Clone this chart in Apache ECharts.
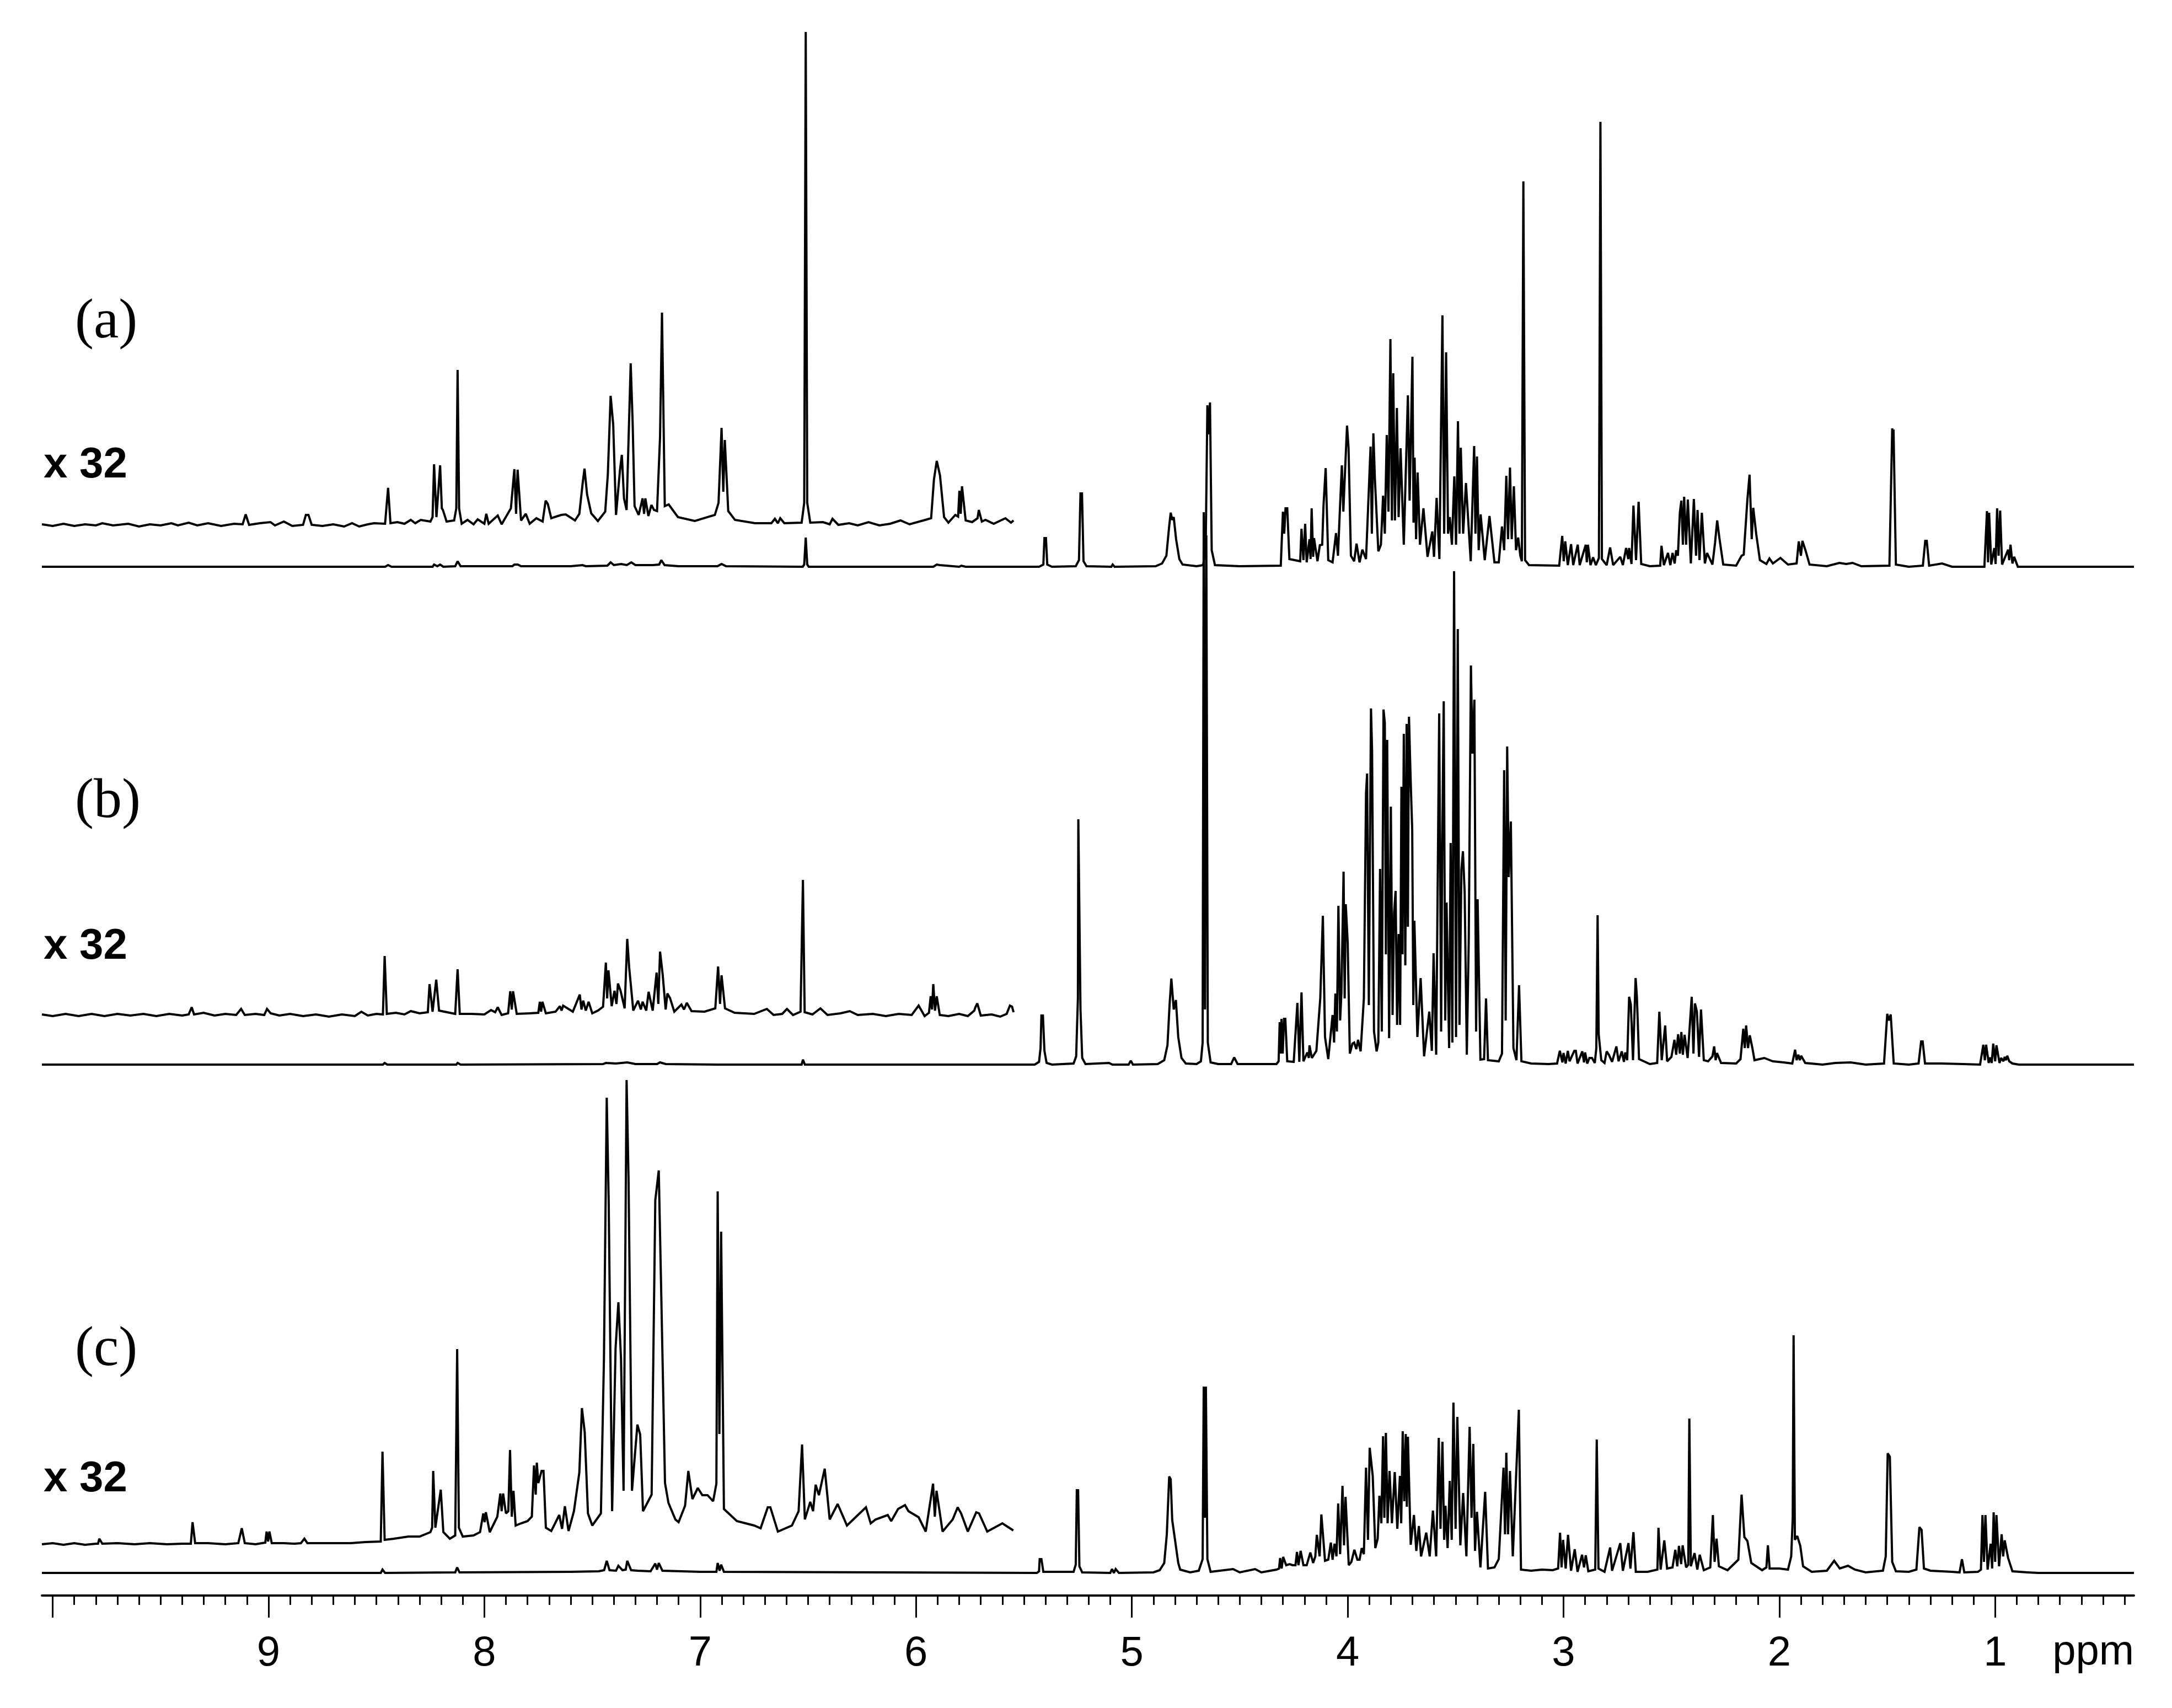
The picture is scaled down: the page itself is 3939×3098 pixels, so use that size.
<!DOCTYPE html>
<html><head><meta charset="utf-8">
<style>html,body{margin:0;padding:0;background:#fff}#c{width:3939px;height:3098px}</style>
<script src="https://cdn.jsdelivr.net/npm/echarts@6/dist/echarts.min.js"></script>
</head><body><div id="c"></div>
<script>
// Each trace: [chemical shift in ppm, intensity above that trace's baseline]
const traceAx32=[[10.05,1],[10.0,-2],[9.95,2],[9.9,-2],[9.85,1],[9.8,-1],[9.77,3],[9.72,-1],[9.65,2],[9.6,-3],[9.55,1],[9.5,-1],[9.45,3],[9.42,-1],[9.37,4],[9.33,-1],[9.28,3],[9.22,-2],[9.16,2],[9.12,1],[9.106,19],[9.09,0],[9.04,3],[8.991,5],[8.97,-1],[8.929,6],[8.89,-2],[8.84,0],[8.827,18],[8.815,18],[8.80,0],[8.75,-2],[8.7,1],[8.65,-3],[8.613,3],[8.58,-3],[8.54,1],[8.511,3],[8.46,2],[8.446,67],[8.435,3],[8.403,5],[8.37,2],[8.341,9],[8.32,3],[8.295,9],[8.25,6],[8.24,14],[8.233,110],[8.222,14],[8.205,108],[8.197,30],[8.192,27],[8.175,6],[8.14,8],[8.13,30],[8.124,281],[8.117,30],[8.105,2],[8.078,9],[8.05,1],[8.031,10],[8.0,2],[7.991,20],[7.98,2],[7.938,17],[7.92,1],[7.877,30],[7.861,101],[7.853,20],[7.846,100],[7.83,8],[7.808,20],[7.79,2],[7.759,12],[7.73,6],[7.716,44],[7.706,38],[7.69,12],[7.644,18],[7.623,19],[7.58,8],[7.56,20],[7.545,74],[7.536,102],[7.524,55],[7.505,21],[7.474,7],[7.44,24],[7.428,91],[7.415,234],[7.403,182],[7.39,18],[7.372,98],[7.363,127],[7.353,48],[7.341,27],[7.322,293],[7.313,186],[7.304,34],[7.285,18],[7.267,48],[7.26,20],[7.254,48],[7.24,16],[7.226,36],[7.214,27],[7.2,25],[7.186,159],[7.177,385],[7.164,34],[7.146,37],[7.103,14],[7.025,7],[6.932,18],[6.915,40],[6.901,176],[6.893,60],[6.886,154],[6.87,25],[6.839,9],[6.746,3],[6.67,3],[6.654,11],[6.64,3],[6.629,12],[6.61,3],[6.53,4],[6.518,40],[6.511,894],[6.504,40],[6.49,4],[6.431,5],[6.4,1],[6.387,11],[6.36,0],[6.31,3],[6.27,-1],[6.22,5],[6.17,-1],[6.12,2],[6.072,8],[6.03,1],[5.957,9],[5.93,12],[5.917,82],[5.904,116],[5.889,90],[5.87,14],[5.85,4],[5.818,18],[5.805,15],[5.799,62],[5.793,20],[5.787,70],[5.77,8],[5.74,5],[5.715,12],[5.709,27],[5.695,6],[5.678,9],[5.64,2],[5.586,12],[5.56,4],[5.548,8]];
const traceAmain=[[10.05,0],[8.46,0],[8.446,3],[8.43,0],[8.24,0],[8.233,4],[8.218,1],[8.205,4],[8.19,0],[8.135,1],[8.124,10],[8.11,1],[7.87,1],[7.861,4],[7.845,4],[7.83,1],[7.6,1],[7.545,3],[7.53,1],[7.43,2],[7.415,8],[7.40,3],[7.366,5],[7.34,3],[7.319,8],[7.30,3],[7.22,3],[7.19,4],[7.18,12],[7.165,3],[7.1,1],[6.92,1],[6.901,5],[6.88,1],[6.525,0],[6.518,4],[6.511,53],[6.504,4],[6.497,0],[5.92,0],[5.904,4],[5.89,3],[5.8,0],[5.79,2],[5.77,0],[5.43,0],[5.41,4],[5.405,52],[5.398,52],[5.392,4],[5.37,0],[5.26,1],[5.245,12],[5.238,133],[5.231,133],[5.224,10],[5.21,1],[5.095,0],[5.089,4],[5.08,0],[4.89,1],[4.86,6],[4.84,20],[4.828,70],[4.82,98],[4.813,85],[4.806,90],[4.795,50],[4.78,14],[4.765,4],[4.70,1],[4.67,3],[4.658,30],[4.65,293],[4.644,240],[4.638,298],[4.63,30],[4.615,3],[4.5,1],[4.31,2],[4.30,100],[4.294,60],[4.288,106],[4.28,106],[4.27,14],[4.22,10],[4.214,69],[4.205,12],[4.197,78],[4.19,8],[4.177,50],[4.172,14],[4.167,106],[4.16,18],[4.156,52],[4.14,10],[4.129,39],[4.118,40],[4.112,111],[4.102,179],[4.09,12],[4.07,8],[4.054,61],[4.045,20],[4.037,95],[4.027,184],[4.02,100],[4.017,130],[4.003,256],[3.996,216],[3.985,20],[3.97,10],[3.959,42],[3.945,8],[3.932,31],[3.915,14],[3.894,218],[3.888,60],[3.881,242],[3.874,160],[3.858,28],[3.846,40],[3.836,129],[3.828,60],[3.819,239],[3.811,100],[3.802,413],[3.795,84],[3.789,351],[3.781,84],[3.772,288],[3.764,90],[3.755,215],[3.74,40],[3.721,311],[3.713,120],[3.70,381],[3.695,80],[3.69,198],[3.683,50],[3.676,171],[3.665,40],[3.649,106],[3.63,18],[3.608,64],[3.6,18],[3.588,125],[3.575,14],[3.561,456],[3.553,60],[3.544,389],[3.535,60],[3.527,90],[3.517,40],[3.506,164],[3.498,40],[3.489,264],[3.482,60],[3.476,216],[3.465,60],[3.452,152],[3.43,10],[3.414,219],[3.408,60],[3.401,200],[3.393,30],[3.384,95],[3.365,12],[3.343,92],[3.32,8],[3.30,8],[3.285,73],[3.275,30],[3.265,165],[3.257,50],[3.248,180],[3.24,50],[3.23,146],[3.22,30],[3.21,53],[3.2,20],[3.193,10],[3.186,699],[3.178,12],[3.16,3],[3.02,2],[3.006,56],[2.999,10],[2.992,46],[2.98,3],[2.965,41],[2.955,3],[2.934,40],[2.925,3],[2.897,40],[2.892,8],[2.887,40],[2.875,3],[2.863,17],[2.85,3],[2.836,16],[2.829,807],[2.822,14],[2.80,3],[2.784,35],[2.77,3],[2.737,18],[2.725,3],[2.71,34],[2.70,14],[2.696,34],[2.685,5],[2.676,111],[2.664,12],[2.652,118],[2.64,5],[2.60,1],[2.552,2],[2.546,38],[2.535,3],[2.516,25],[2.505,3],[2.495,25],[2.485,6],[2.478,30],[2.47,20],[2.461,98],[2.454,120],[2.447,40],[2.441,127],[2.432,40],[2.424,122],[2.41,6],[2.396,123],[2.386,20],[2.379,103],[2.37,12],[2.359,98],[2.345,6],[2.335,25],[2.31,4],[2.298,43],[2.288,84],[2.277,50],[2.26,4],[2.2,2],[2.175,20],[2.165,22],[2.148,122],[2.138,167],[2.128,50],[2.121,107],[2.107,59],[2.09,12],[2.06,5],[2.046,15],[2.03,6],[1.995,16],[1.96,4],[1.92,6],[1.91,46],[1.90,20],[1.893,47],[1.879,30],[1.86,4],[1.78,1],[1.722,7],[1.69,5],[1.661,7],[1.62,1],[1.49,2],[1.477,251],[1.474,240],[1.471,249],[1.46,4],[1.40,0],[1.335,2],[1.324,47],[1.317,47],[1.306,2],[1.246,6],[1.2,0],[1.05,0],[1.038,101],[1.033,8],[1.028,98],[1.018,4],[1.004,34],[0.998,5],[0.991,106],[0.984,20],[0.977,102],[0.968,4],[0.94,31],[0.935,12],[0.929,40],[0.92,6],[0.912,18],[0.895,0],[0.357,0]];
const traceBx32=[[10.05,1],[10.0,-2],[9.94,2],[9.88,-2],[9.82,2],[9.76,-2],[9.7,2],[9.64,-1],[9.58,2],[9.52,-2],[9.46,2],[9.4,-1],[9.37,1],[9.356,14],[9.345,1],[9.301,4],[9.25,-1],[9.2,2],[9.15,0],[9.127,11],[9.11,0],[9.06,2],[9.02,0],[9.007,11],[8.99,3],[8.95,-1],[8.9,2],[8.84,-2],[8.78,1],[8.72,-3],[8.66,1],[8.6,-2],[8.57,6],[8.54,-1],[8.5,2],[8.47,1],[8.462,107],[8.452,2],[8.41,4],[8.37,1],[8.341,7],[8.3,3],[8.262,5],[8.254,56],[8.24,6],[8.223,64],[8.21,8],[8.135,2],[8.124,83],[8.114,2],[8.06,2],[8.0,1],[7.969,9],[7.95,5],[7.938,14],[7.92,0],[7.89,3],[7.88,43],[7.873,10],[7.867,43],[7.85,2],[7.79,3],[7.75,4],[7.743,24],[7.737,6],[7.731,24],[7.715,3],[7.67,6],[7.65,16],[7.642,8],[7.635,17],[7.59,6],[7.558,37],[7.55,10],[7.542,26],[7.53,8],[7.517,24],[7.5,3],[7.474,8],[7.45,15],[7.437,95],[7.431,30],[7.425,81],[7.41,16],[7.397,44],[7.388,20],[7.381,57],[7.369,44],[7.35,12],[7.338,138],[7.329,86],[7.31,8],[7.288,26],[7.275,10],[7.267,24],[7.25,8],[7.239,42],[7.22,8],[7.202,77],[7.194,20],[7.186,115],[7.174,74],[7.16,10],[7.152,39],[7.14,31],[7.12,6],[7.087,19],[7.075,10],[7.062,22],[7.04,7],[6.98,6],[6.93,12],[6.917,88],[6.908,20],[6.901,72],[6.885,12],[6.84,4],[6.75,2],[6.691,11],[6.66,0],[6.62,2],[6.598,11],[6.57,0],[6.535,6],[6.524,245],[6.516,5],[6.48,1],[6.443,12],[6.41,0],[6.35,3],[6.307,7],[6.27,0],[6.2,2],[6.14,-2],[6.08,2],[6.02,0],[5.988,17],[5.96,-2],[5.94,4],[5.932,34],[5.926,10],[5.92,56],[5.912,8],[5.904,34],[5.89,0],[5.85,-2],[5.8,2],[5.76,-2],[5.73,8],[5.725,14],[5.716,21],[5.7,-1],[5.65,1],[5.61,-3],[5.58,2],[5.565,17],[5.555,15],[5.548,5]];
const traceBmain=[[10.05,0],[8.47,0],[8.462,3],[8.45,0],[8.13,0],[8.124,3],[8.11,0],[7.45,1],[7.437,3],[7.39,2],[7.338,4],[7.3,1],[7.2,1],[7.186,4],[7.16,1],[6.92,0],[6.917,2],[6.9,0],[6.53,0],[6.524,9],[6.515,0],[5.45,0],[5.43,5],[5.423,30],[5.419,89],[5.412,89],[5.405,25],[5.395,3],[5.37,0],[5.27,2],[5.258,15],[5.25,120],[5.248,445],[5.243,445],[5.238,100],[5.23,12],[5.215,1],[5.106,3],[5.09,0],[5.015,0],[5.005,7],[4.995,0],[4.88,1],[4.85,8],[4.835,35],[4.825,110],[4.817,156],[4.806,100],[4.796,117],[4.785,50],[4.77,12],[4.75,2],[4.70,1],[4.68,6],[4.672,40],[4.667,1002],[4.661,100],[4.655,960],[4.648,40],[4.635,4],[4.6,1],[4.54,1],[4.526,13],[4.51,1],[4.33,1],[4.32,6],[4.315,77],[4.311,20],[4.307,83],[4.301,20],[4.295,83],[4.289,83],[4.28,6],[4.25,5],[4.233,112],[4.224,5],[4.214,131],[4.205,6],[4.187,22],[4.18,12],[4.177,35],[4.166,12],[4.145,25],[4.127,120],[4.115,270],[4.105,50],[4.09,10],[4.07,90],[4.063,40],[4.057,129],[4.05,60],[4.043,288],[4.035,80],[4.029,130],[4.019,350],[4.014,120],[4.009,291],[4.0,222],[3.99,20],[3.978,38],[3.97,40],[3.96,28],[3.952,45],[3.94,24],[3.925,120],[3.915,492],[3.91,528],[3.902,108],[3.892,646],[3.887,570],[3.878,60],[3.866,24],[3.858,40],[3.85,355],[3.842,60],[3.834,644],[3.828,620],[3.823,200],[3.817,589],[3.808,48],[3.8,468],[3.792,90],[3.785,275],[3.778,315],[3.771,72],[3.764,237],[3.757,72],[3.751,504],[3.746,200],[3.74,600],[3.733,180],[3.727,618],[3.721,250],[3.716,631],[3.708,513],[3.701,426],[3.696,108],[3.691,261],[3.677,50],[3.662,157],[3.646,15],[3.622,96],[3.61,25],[3.602,202],[3.59,18],[3.576,637],[3.567,60],[3.562,400],[3.555,659],[3.548,80],[3.542,294],[3.537,294],[3.53,30],[3.523,402],[3.515,40],[3.507,895],[3.498,50],[3.49,790],[3.482,72],[3.473,354],[3.466,387],[3.458,312],[3.448,18],[3.439,228],[3.429,724],[3.422,564],[3.413,662],[3.405,60],[3.398,300],[3.385,9],[3.368,10],[3.359,120],[3.35,8],[3.3,6],[3.285,20],[3.275,534],[3.268,80],[3.261,577],[3.254,340],[3.244,441],[3.232,30],[3.218,8],[3.206,144],[3.195,6],[3.15,2],[3.07,1],[3.03,2],[3.017,25],[3.005,4],[3.0,21],[2.99,2],[2.98,25],[2.972,6],[2.95,25],[2.943,25],[2.935,2],[2.913,24],[2.905,4],[2.9,22],[2.89,2],[2.88,12],[2.868,12],[2.855,3],[2.848,30],[2.842,271],[2.837,55],[2.825,8],[2.81,3],[2.8,24],[2.79,18],[2.775,5],[2.755,33],[2.745,6],[2.73,24],[2.72,5],[2.714,22],[2.705,8],[2.696,123],[2.688,109],[2.678,8],[2.666,157],[2.66,123],[2.65,10],[2.6,1],[2.566,3],[2.556,96],[2.545,8],[2.529,71],[2.52,6],[2.5,14],[2.486,45],[2.478,18],[2.469,55],[2.461,20],[2.454,59],[2.447,18],[2.439,54],[2.425,12],[2.406,123],[2.398,20],[2.391,111],[2.382,96],[2.372,14],[2.363,100],[2.35,8],[2.33,6],[2.31,15],[2.302,33],[2.295,8],[2.289,21],[2.27,3],[2.2,2],[2.18,10],[2.167,65],[2.16,30],[2.154,71],[2.145,30],[2.137,53],[2.125,30],[2.115,8],[2.07,12],[2.03,6],[1.98,4],[1.94,2],[1.927,27],[1.92,8],[1.912,18],[1.905,8],[1.899,16],[1.88,3],[1.8,0],[1.74,3],[1.67,4],[1.6,0],[1.515,2],[1.5,92],[1.493,80],[1.484,91],[1.47,2],[1.4,0],[1.355,2],[1.343,42],[1.336,42],[1.325,2],[1.25,2],[1.15,1],[1.07,0],[1.055,36],[1.048,8],[1.042,36],[1.03,3],[1.023,13],[1.016,3],[1.009,38],[1.0,6],[0.994,35],[0.98,3],[0.972,12],[0.962,6],[0.956,14],[0.95,8],[0.944,16],[0.935,6],[0.92,2],[0.89,0],[0.357,0]];
const traceCx32=[[10.05,0],[10.0,2],[9.95,-1],[9.9,2],[9.85,-1],[9.8,1],[9.79,1],[9.784,10],[9.77,1],[9.7,2],[9.62,0],[9.55,2],[9.47,0],[9.4,1],[9.36,1],[9.352,40],[9.34,2],[9.28,2],[9.2,0],[9.14,2],[9.124,29],[9.11,2],[9.06,0],[9.015,3],[9.009,23],[9.002,5],[8.996,23],[8.985,2],[8.93,2],[8.88,1],[8.85,2],[8.834,10],[8.82,2],[8.75,2],[8.7,2],[8.62,2],[8.55,4],[8.48,5],[8.472,168],[8.462,8],[8.42,10],[8.352,14],[8.3,14],[8.25,22],[8.242,30],[8.237,133],[8.227,30],[8.202,99],[8.19,22],[8.16,10],[8.135,16],[8.126,354],[8.118,30],[8.1,14],[8.05,16],[8.02,22],[8.005,56],[7.999,40],[7.993,58],[7.975,22],[7.94,50],[7.926,92],[7.92,60],[7.913,92],[7.9,56],[7.889,60],[7.881,171],[7.873,50],[7.865,97],[7.855,34],[7.83,38],[7.8,42],[7.78,50],[7.77,143],[7.762,90],[7.757,148],[7.75,111],[7.735,133],[7.726,133],[7.715,30],[7.69,24],[7.653,53],[7.64,28],[7.627,69],[7.61,24],[7.585,60],[7.56,130],[7.548,247],[7.535,203],[7.52,56],[7.5,34],[7.46,56],[7.446,335],[7.433,810],[7.424,624],[7.408,60],[7.392,356],[7.379,439],[7.367,338],[7.355,97],[7.341,842],[7.332,664],[7.316,97],[7.291,217],[7.278,199],[7.265,60],[7.225,90],[7.208,624],[7.192,678],[7.182,485],[7.163,111],[7.147,75],[7.115,45],[7.1,40],[7.07,70],[7.055,133],[7.036,82],[7.011,102],[6.99,89],[6.966,89],[6.94,78],[6.925,110],[6.919,640],[6.911,200],[6.903,567],[6.89,64],[6.83,42],[6.75,34],[6.72,29],[6.687,67],[6.675,67],[6.64,23],[6.575,34],[6.544,60],[6.528,181],[6.515,45],[6.49,77],[6.477,60],[6.465,108],[6.45,89],[6.423,137],[6.4,45],[6.363,73],[6.32,34],[6.232,67],[6.21,38],[6.187,45],[6.131,53],[6.115,42],[6.083,64],[6.051,71],[6.035,60],[5.988,49],[5.955,23],[5.921,110],[5.913,50],[5.905,97],[5.877,23],[5.83,45],[5.807,67],[5.791,56],[5.76,23],[5.721,58],[5.708,56],[5.67,23],[5.6,38],[5.549,25]];
const traceCmain=[[10.05,0],[8.48,0],[8.472,6],[8.46,0],[8.135,1],[8.126,10],[8.115,1],[7.6,2],[7.47,3],[7.445,5],[7.433,22],[7.42,5],[7.39,4],[7.379,13],[7.36,5],[7.345,6],[7.338,22],[7.32,5],[7.29,4],[7.23,3],[7.208,17],[7.2,6],[7.192,18],[7.175,4],[7.0,2],[6.925,2],[6.919,18],[6.91,4],[6.903,15],[6.89,2],[5.44,0],[5.43,3],[5.427,25],[5.419,25],[5.41,2],[5.27,2],[5.26,15],[5.255,150],[5.249,150],[5.243,12],[5.23,1],[5.1,0],[5.092,7],[5.083,0],[5.075,7],[5.06,0],[4.9,1],[4.871,5],[4.85,18],[4.838,70],[4.827,175],[4.82,170],[4.813,96],[4.8,60],[4.785,18],[4.776,6],[4.73,1],[4.69,4],[4.672,25],[4.667,338],[4.662,100],[4.657,338],[4.65,25],[4.635,2],[4.531,7],[4.5,1],[4.429,7],[4.4,1],[4.33,6],[4.318,8],[4.313,27],[4.306,8],[4.299,29],[4.285,14],[4.269,16],[4.255,14],[4.242,14],[4.235,38],[4.228,14],[4.218,40],[4.205,14],[4.19,14],[4.173,37],[4.16,18],[4.15,30],[4.143,69],[4.13,30],[4.122,106],[4.105,22],[4.09,24],[4.078,55],[4.07,24],[4.061,53],[4.052,30],[4.044,126],[4.035,34],[4.024,158],[4.017,50],[4.01,138],[3.995,14],[3.983,20],[3.969,42],[3.955,24],[3.945,24],[3.935,45],[3.925,34],[3.915,191],[3.906,60],[3.898,227],[3.884,176],[3.872,45],[3.861,62],[3.853,140],[3.844,90],[3.836,248],[3.83,100],[3.823,254],[3.815,90],[3.806,185],[3.795,90],[3.782,183],[3.77,80],[3.758,176],[3.752,90],[3.745,257],[3.738,130],[3.731,252],[3.726,120],[3.721,247],[3.708,51],[3.693,105],[3.682,40],[3.67,85],[3.66,30],[3.636,73],[3.62,30],[3.605,113],[3.59,30],[3.578,245],[3.57,80],[3.561,238],[3.553,60],[3.547,122],[3.537,45],[3.527,167],[3.518,60],[3.51,309],[3.5,80],[3.492,283],[3.478,50],[3.465,145],[3.45,30],[3.435,265],[3.426,100],[3.418,234],[3.41,40],[3.401,111],[3.385,10],[3.363,147],[3.35,8],[3.32,10],[3.30,25],[3.278,191],[3.271,70],[3.265,218],[3.257,70],[3.248,185],[3.235,30],[3.207,296],[3.197,6],[3.15,4],[3.1,6],[3.05,5],[3.025,8],[3.016,73],[3.009,10],[3.002,60],[2.99,8],[2.979,69],[2.965,4],[2.948,43],[2.935,2],[2.914,33],[2.905,10],[2.897,32],[2.885,3],[2.853,6],[2.846,242],[2.838,8],[2.81,2],[2.784,46],[2.775,4],[2.737,54],[2.725,4],[2.699,54],[2.69,8],[2.676,74],[2.665,2],[2.61,2],[2.565,6],[2.56,82],[2.55,6],[2.533,59],[2.52,8],[2.495,10],[2.482,42],[2.473,12],[2.465,49],[2.455,16],[2.448,50],[2.432,10],[2.422,15],[2.417,280],[2.41,12],[2.393,36],[2.38,6],[2.369,33],[2.35,5],[2.32,10],[2.308,105],[2.3,20],[2.291,62],[2.28,12],[2.24,5],[2.19,24],[2.175,142],[2.162,65],[2.148,58],[2.13,18],[2.08,5],[2.06,10],[2.053,50],[2.045,8],[2.0,8],[1.96,6],[1.945,30],[1.938,100],[1.934,431],[1.928,60],[1.917,67],[1.903,49],[1.89,12],[1.85,2],[1.78,4],[1.746,22],[1.72,8],[1.682,13],[1.65,6],[1.6,1],[1.52,4],[1.507,30],[1.498,217],[1.488,211],[1.477,20],[1.46,3],[1.4,2],[1.365,6],[1.351,83],[1.341,78],[1.33,8],[1.3,4],[1.2,2],[1.165,1],[1.154,25],[1.143,1],[1.08,2],[1.066,6],[1.059,105],[1.052,20],[1.045,105],[1.035,6],[1.021,53],[1.014,8],[1.007,110],[1.0,20],[0.994,105],[0.982,12],[0.97,70],[0.963,30],[0.956,59],[0.94,27],[0.92,3],[0.85,1],[0.8,0],[0.357,0]];

const majorTicks=[10,9,8,7,6,5,4,3,2,1];
const tickLabels=[9,8,7,6,5,4,3,2,1];
const minorTicks=[9.9,9.8,9.7,9.6,9.5,9.4,9.3,9.2,9.1,8.9,8.8,8.7,8.6,8.5,8.4,8.3,8.2,8.1,7.9,7.8,7.7,7.6,7.5,7.4,7.3,7.2,7.1,6.9,6.8,6.7,6.6,6.5,6.4,6.3,6.2,6.1,5.9,5.8,5.7,5.6,5.5,5.4,5.3,5.2,5.1,4.9,4.8,4.7,4.6,4.5,4.4,4.3,4.2,4.1,3.9,3.8,3.7,3.6,3.5,3.4,3.3,3.2,3.1,2.9,2.8,2.7,2.6,2.5,2.4,2.3,2.2,2.1,1.9,1.8,1.7,1.6,1.5,1.4,1.3,1.2,1.1,0.9,0.8,0.7,0.6,0.5,0.4];
const panelLabels=['(a)','(b)','(c)'];
const scaleLabel='x 32';
const unitLabel='ppm';

const X_HIGH=10.05,X_LOW=0.357,LEFT=76,RIGHT=69,DROP=30;
const traces=[
 {data:traceAx32,base:952},{data:traceAmain,base:1028},
 {data:traceBx32,base:1841},{data:traceBmain,base:1931},
 {data:traceCx32,base:2801},{data:traceCmain,base:2853}
];
const grid=[],xAxis=[],yAxis=[],series=[];
traces.forEach((t,i)=>{
 grid.push({left:LEFT,right:RIGHT,top:0,height:t.base+DROP});
 xAxis.push({type:'value',gridIndex:i,min:X_LOW,max:X_HIGH,inverse:true,show:false});
 yAxis.push({type:'value',gridIndex:i,min:-DROP,max:t.base,show:false});
 series.push({type:'line',xAxisIndex:i,yAxisIndex:i,data:t.data,showSymbol:false,symbol:'none',
   lineStyle:{color:'#000',width:4,join:'miter',miterLimit:2},itemStyle:{color:'#000'},silent:true,animation:false,clip:false,sampling:false});
});
const ag=traces.length;
grid.push({left:LEFT,right:RIGHT,top:2000,height:894});
yAxis.push({type:'value',gridIndex:ag,min:0,max:1,show:false});
const sans='"Liberation Sans"',serif='"Liberation Serif"';
xAxis.push({type:'value',gridIndex:ag,position:'bottom',min:X_LOW,max:X_HIGH,inverse:true,
  axisLine:{show:true,onZero:false,lineStyle:{color:'#000',width:4}},splitLine:{show:false},
  axisTick:{show:true,length:40,lineStyle:{color:'#000',width:3},customValues:majorTicks},
  axisLabel:{show:true,margin:68,fontFamily:sans,fontSize:76,color:'#000',customValues:tickLabels,formatter:v=>String(v)}});
xAxis.push({type:'value',gridIndex:ag,position:'bottom',min:X_LOW,max:X_HIGH,inverse:true,
  axisLine:{show:false,onZero:false},splitLine:{show:false},
  axisTick:{show:true,length:17,lineStyle:{color:'#000',width:3},customValues:minorTicks},
  axisLabel:{show:false}});
series.push({type:'line',xAxisIndex:ag,yAxisIndex:ag,data:[],silent:true,animation:false});
series.push({type:'line',xAxisIndex:ag+1,yAxisIndex:ag,data:[],silent:true,animation:false});

function txt(x,y,t,font,size,weight,align){return {type:'text',x:x,y:y,silent:true,
  style:{text:t,fontFamily:font,fontSize:size,fontWeight:weight,fill:'#000',textAlign:align||'left',textVerticalAlign:'bottom'}};}
const graphic=[
 txt(136,636,panelLabels[0],serif,102,'normal'),
 txt(136,1506,panelLabels[1],serif,102,'normal'),
 txt(136,2500,panelLabels[2],serif,102,'normal'),
 txt(79,883,scaleLabel,sans,78,'bold'),
 txt(79,1756,scaleLabel,sans,78,'bold'),
 txt(79,2722,scaleLabel,sans,78,'bold'),
 txt(3870,3036,unitLabel,sans,76,'normal','right')
];
const chart=echarts.init(document.getElementById('c'),null,{renderer:'canvas',width:3939,height:3098});
chart.setOption({animation:false,backgroundColor:'#fff',grid,xAxis,yAxis,series,graphic});
</script></body></html>
